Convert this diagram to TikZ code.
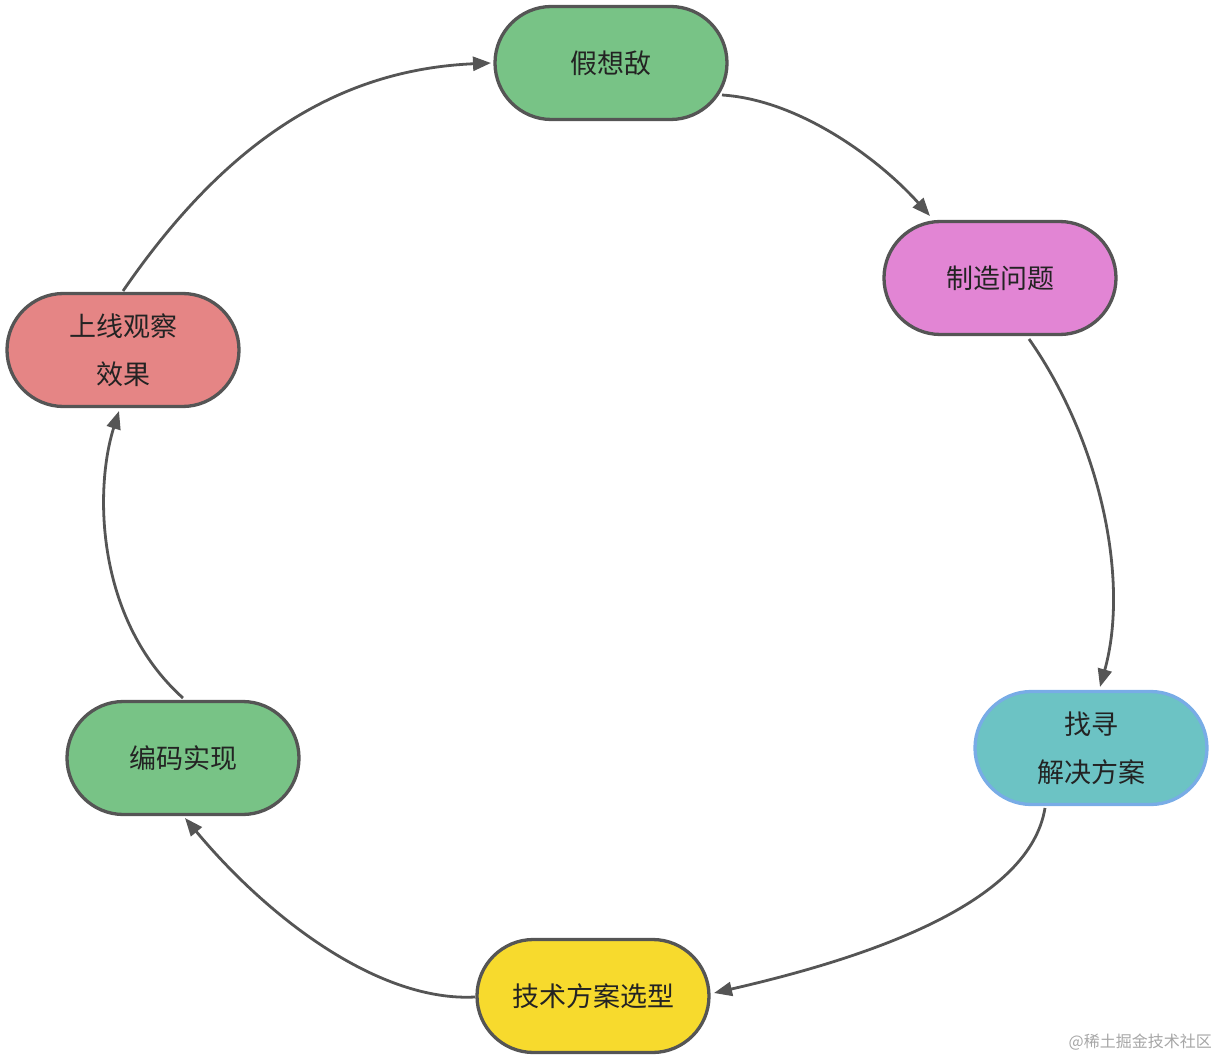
\documentclass[tikz,border=0pt]{standalone}
\usepackage{fontspec}
\newfontfamily\cjk{Noto Sans CJK SC}
\usetikzlibrary{shapes.misc,arrows.meta}
\definecolor{gfill}{RGB}{120,195,134}
\definecolor{pfill}{RGB}{226,133,212}
\definecolor{tfill}{RGB}{108,195,196}
\definecolor{tborder}{RGB}{120,172,230}
\definecolor{yfill}{RGB}{247,218,45}
\definecolor{rfill}{RGB}{229,133,133}
\definecolor{edge}{RGB}{85,85,85}
\definecolor{txt}{RGB}{35,35,35}
\begin{document}
\begin{tikzpicture}[x=1pt,y=-1pt,
  stage/.style={rounded rectangle, draw=edge, line width=3.3pt, minimum width=232pt, minimum height=113pt,
    inner sep=0pt, align=center, font=\cjk\fontsize{27}{48}\selectfont, text=txt},
  conn/.style={draw=edge, line width=2.8pt, -{Triangle[length=18pt,width=14pt]}}]
\useasboundingbox (0,0) rectangle (1219,1059);
\node[stage, fill=gfill] (a) at (611,63) {假想敌};
\node[stage, fill=pfill] (b) at (1000,278) {制造问题};
\node[stage, fill=tfill, draw=tborder] (c) at (1091,748) {找寻\\解决方案};
\node[stage, fill=yfill] (d) at (593,996) {技术方案选型};
\node[stage, fill=gfill] (e) at (183,758) {编码实现};
\node[stage, fill=rfill] (f) at (123,350) {上线观察\\效果};
\coordinate (a1) at (722,95);
\coordinate (b0) at (930,216);
\coordinate (b1) at (1029,339);
\coordinate (c0) at (1100,687);
\coordinate (c1) at (1045,808);
\coordinate (d0) at (714,993);
\coordinate (d1) at (475,997);
\coordinate (e0) at (185,818);
\coordinate (e1) at (183,698);
\coordinate (f0) at (119,411);
\coordinate (f1) at (123,291);
\coordinate (a0) at (491,63);
\draw[conn] (f1) .. controls (220,150) and (330,70) .. (a0);
\draw[conn] (a1) .. controls (800,100) and (880,160) .. (b0);
\draw[conn] (b1) .. controls (1100,440) and (1130,580) .. (c0);
\draw[conn] (c1) .. controls (1030,900) and (880,955) .. (d0);
\draw[conn] (d1) .. controls (380,1002) and (270,920) .. (e0);
\draw[conn] (e1) .. controls (96,620) and (94,490) .. (f0);
\node[anchor=east, text=gray!70, font=\cjk\fontsize{16}{18}\selectfont, inner sep=0pt] (w) at (1212,1042) {@稀土掘金技术社区};
\end{tikzpicture}
\end{document}
